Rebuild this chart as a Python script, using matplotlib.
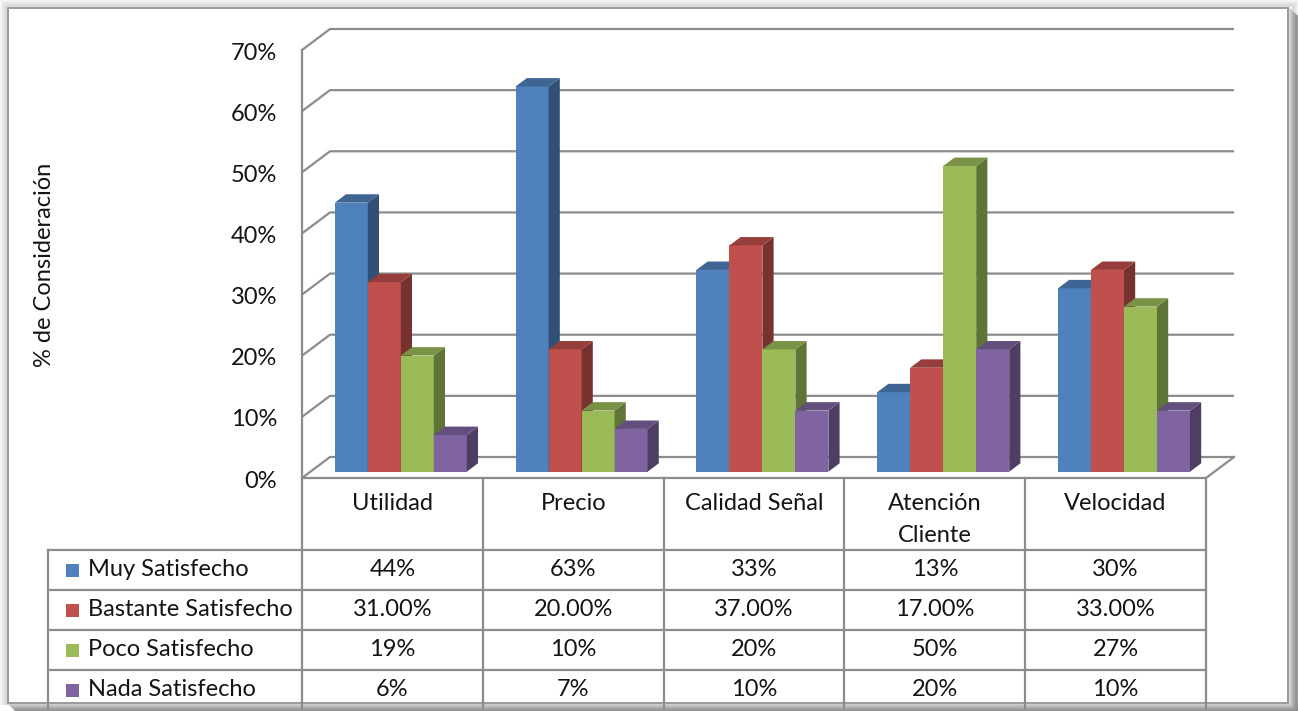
import matplotlib
matplotlib.use("Agg")
import matplotlib.pyplot as plt
from matplotlib.patches import Polygon, Rectangle
from matplotlib.lines import Line2D
import matplotlib.colors as mcolors
import numpy as np

plt.rcParams['font.family'] = ['Lato', 'DejaVu Sans']

categories = ["Utilidad", "Precio", "Calidad Señal", "Atención\nCliente", "Velocidad"]
series_names = ["Muy Satisfecho", "Bastante Satisfecho", "Poco Satisfecho", "Nada Satisfecho"]
muy = [0.44, 0.63, 0.33, 0.13, 0.30]
bastante = [0.31, 0.20, 0.37, 0.17, 0.33]
poco = [0.19, 0.10, 0.20, 0.50, 0.27]
nada = [0.06, 0.07, 0.10, 0.20, 0.10]
series_values = [muy, bastante, poco, nada]
table_labels = [
    ["44%", "63%", "33%", "13%", "30%"],
    ["31.00%", "20.00%", "37.00%", "17.00%", "33.00%"],
    ["19%", "10%", "20%", "50%", "27%"],
    ["6%", "7%", "10%", "20%", "10%"],
]
yticks = [0, 0.1, 0.2, 0.3, 0.4, 0.5, 0.6, 0.7]
ytick_labels = ["0%", "10%", "20%", "30%", "40%", "50%", "60%", "70%"]
colors = ["#4F81BD", "#C0504D", "#9BBB59", "#8064A2"]

W, H = 1298, 711
fig = plt.figure(figsize=(W / 100, H / 100), dpi=100)
TXT = '#141414'
FS = 17

def fx(x):
    return x / W

def fy(y):
    return 1 - y / H

# frame: light glow on top/left, darker shadow on right/bottom
for i, c in enumerate(["#f4f4f4", "#e8e8e8", "#dcdcdc"]):
    fig.add_artist(Rectangle((fx(1 + 2 * i), fy(703)), fx(W - 2 - 4 * i), (703 - 1 - 2 * i) / H,
                             transform=fig.transFigure, facecolor="none", edgecolor=c, lw=2.2,
                             zorder=-10))
shadow = [mcolors.to_hex(c) for c in
          np.linspace(mcolors.to_rgb("#dedede"), mcolors.to_rgb("#8a8a8a"), 9)]
for k, c in enumerate(shadow):
    fig.add_artist(Line2D([fx(1289 + k), fx(1289 + k)], [fy(8 + k), fy(711)], color=c, lw=1.1,
                          zorder=-9))
    fig.add_artist(Line2D([fx(8 + k), fx(1298)], [fy(703 + k), fy(703 + k)], color=c, lw=1.1,
                          zorder=-9))
fig.add_artist(Rectangle((fx(8), fy(703)), fx(1280), 695 / H, transform=fig.transFigure,
                         facecolor="white", edgecolor="#9a9a9a", lw=1.4, zorder=-8))

# plot area: front plane from x=302..1206, y=478 (0%)..50 (70%)
x_left, x_right, y0, y70 = 302, 1206, 478, 50
ax = fig.add_axes([fx(x_left), fy(y0), (x_right - x_left) / W, (y0 - y70) / H])
ax.set_xlim(-0.5, 4.5)
ax.set_ylim(0, 0.7)
ax.axis('off')
ax.patch.set_visible(False)

n = len(categories)
px_x = 5 / (x_right - x_left)
px_y = 0.7 / (y0 - y70)
DX = 28 * px_x
DY = 21 * px_y
grid_c = "#8c8c8c"

# gridlines on left and back walls
for t in yticks:
    ax.plot([-0.5, -0.5 + DX, 4.5 + DX], [t, t + DY, t + DY], color=grid_c, lw=1.6,
            clip_on=False, zorder=1, solid_capstyle='butt')
# left axis line and floor
ax.plot([-0.5, -0.5], [0, 0.7], color=grid_c, lw=1.6, clip_on=False, zorder=1)
ax.plot([-0.5, 4.5, 4.5 + DX], [0, 0, DY], color=grid_c, lw=1.6, clip_on=False, zorder=1)

# tick labels
for t, lab in zip(yticks, ytick_labels):
    ax.text(-0.5 - 25 * px_x, t - 3 * px_y, lab, ha='right', va='center', fontsize=FS, color=TXT)

# bars with 3D faces
bw = 0.1825
f_front, f_back = 0.3, 0.7
ox0, oy0 = DX * f_front, DY * f_front
ox1, oy1 = DX * f_back, DY * f_back

def shade(c, k):
    r, g, b = mcolors.to_rgb(c)
    return (r * k, g * k, b * k)

for ci in range(n):
    for si, vals in enumerate(series_values):
        v = vals[ci]
        xl = ci - 2 * bw + si * bw + ox0
        xr = xl + bw
        z = 3 + ci * 10 + si
        ax.add_patch(Rectangle((xl, oy0), bw, v, facecolor=colors[si], edgecolor='none',
                               zorder=z, clip_on=False))
        side = [(xr, oy0), (xr + ox1 - ox0, oy1), (xr + ox1 - ox0, v + oy1), (xr, v + oy0)]
        ax.add_patch(Polygon(side, closed=True, facecolor=shade(colors[si], 0.62), edgecolor='none',
                             zorder=z, clip_on=False))
        top = [(xl, v + oy0), (xr, v + oy0), (xr + ox1 - ox0, v + oy1), (xl + ox1 - ox0, v + oy1)]
        ax.add_patch(Polygon(top, closed=True, facecolor=shade(colors[si], 0.78), edgecolor='none',
                             zorder=z, clip_on=False))

# data table
tbl_c = "#8c8c8c"
col_w = (x_right - x_left) / n
col_x = [x_left + i * col_w for i in range(n + 1)]
row_y = [550, 590, 630, 670, 710]
t_left = 48
lw_t = 1.6
for x in col_x:
    fig.add_artist(Line2D([fx(x), fx(x)], [fy(y0), fy(708)], color=tbl_c, lw=lw_t))
fig.add_artist(Line2D([fx(t_left), fx(t_left)], [fy(550), fy(708)], color=tbl_c, lw=lw_t))
for y in row_y[:-1]:
    fig.add_artist(Line2D([fx(t_left), fx(x_right)], [fy(y), fy(y)], color=tbl_c, lw=lw_t))

for i, cat in enumerate(categories):
    cx = (col_x[i] + col_x[i + 1]) / 2
    for j, line in enumerate(cat.split("\n")):
        fig.text(fx(cx), fy(503 + 32 * j), line, ha='center', va='center', fontsize=FS, color=TXT)

for si, name in enumerate(series_names):
    cy = (row_y[si] + row_y[si + 1]) / 2
    fig.add_artist(Rectangle((fx(66), fy(cy + 7)), 13 / W, 13 / H, transform=fig.transFigure,
                             facecolor=colors[si], edgecolor='none'))
    fig.text(fx(88), fy(cy), name, ha='left', va='center', fontsize=FS, color=TXT)
    for ci in range(n):
        cx = (col_x[ci] + col_x[ci + 1]) / 2
        fig.text(fx(cx), fy(cy), table_labels[si][ci], ha='center', va='center', fontsize=FS,
                 color=TXT)

# y axis title
fig.text(fx(45), fy(265), "% de Consideración", rotation=90, ha='center', va='center',
         fontsize=FS, color=TXT)

fig.savefig("out.png", dpi=100)
